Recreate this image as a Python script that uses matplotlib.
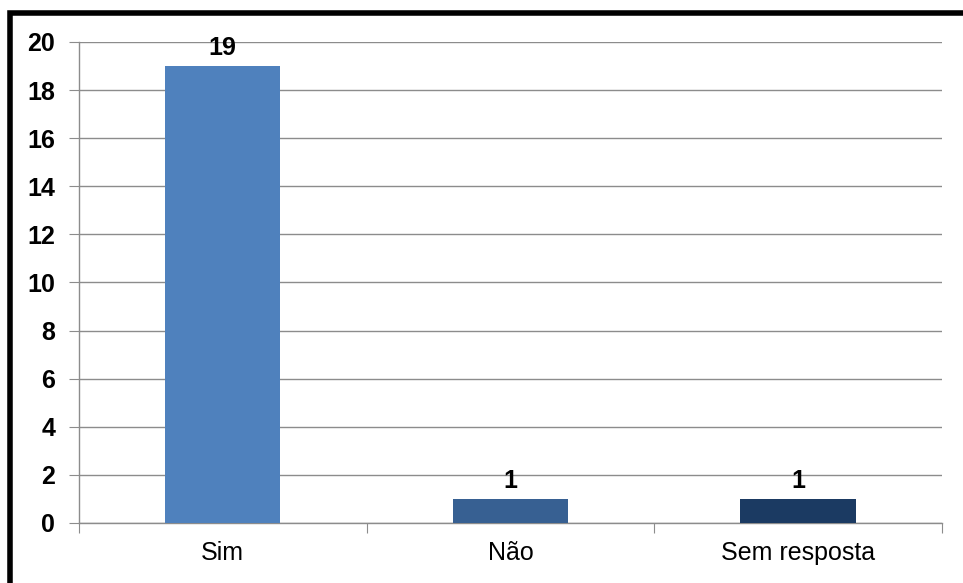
import matplotlib as mpl
mpl.use('agg')
import matplotlib.pyplot as plt
from matplotlib.patches import Rectangle

categories = ["Sim", "Não", "Sem resposta"]
values = [19, 1, 1]
bar_colors = ["#4F81BD", "#376092", "#1B3A62"]
yticks = [0, 2, 4, 6, 8, 10, 12, 14, 16, 18, 20]

plt.rcParams['font.family'] = ['Liberation Sans', 'DejaVu Sans']

fig = plt.figure(figsize=(9.63, 5.83), dpi=100)
ax = fig.add_axes([0.082, 0.103, 0.896, 0.825])

x = list(range(len(categories)))
ax.bar(x, values, width=0.4, color=bar_colors, zorder=3)

for xi, v in zip(x, values):
    ax.annotate(str(v), (xi, v), xytext=(0, 4.5), textcoords='offset points',
                ha='center', va='bottom', fontsize=18, fontweight='bold')

ax.set_xlim(-0.5, 2.5)
ax.set_ylim(0, 20)
ax.set_yticks(yticks)
ax.set_yticklabels([str(t) for t in yticks], fontsize=18, fontweight='bold')
ax.yaxis.grid(True, color='#8C8C8C', linewidth=1.0, zorder=0)

ax.set_xticks([-0.5, 0.5, 1.5, 2.5], minor=False)
ax.set_xticklabels([])
ax.set_xticks(x, minor=True)
ax.set_xticklabels(categories, minor=True, fontsize=18)
ax.tick_params(axis='x', which='minor', length=0, pad=13)
ax.tick_params(axis='x', which='major', length=7, color='#8C8C8C', direction='out')
ax.tick_params(axis='y', length=7, color='#8C8C8C', direction='out', pad=10)

for s in ['top', 'right']:
    ax.spines[s].set_visible(False)
for s in ['left', 'bottom']:
    ax.spines[s].set_color('#8C8C8C')
    ax.spines[s].set_linewidth(1.0)

# outer chart border, clipped by right and bottom image edges
fig.patches.append(Rectangle((10 / 963, -0.05), 1.1, 1 - 13 / 583 + 0.05,
                             transform=fig.transFigure, fill=False,
                             edgecolor='black', linewidth=4))

fig.savefig('out.png', dpi=100)
